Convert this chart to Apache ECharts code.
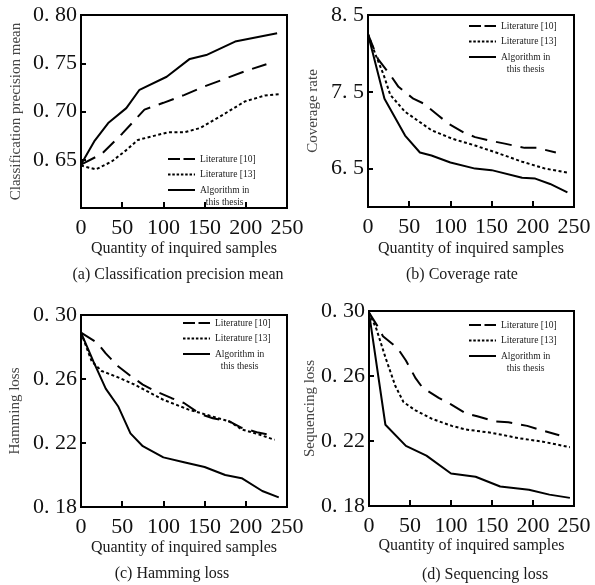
<!DOCTYPE html>
<html>
<head>
<meta charset="utf-8">
<script src="https://cdn.jsdelivr.net/npm/echarts@6/dist/echarts.min.js"></script>
<style>
  html, body { margin: 0; padding: 0; background: #fff; }
  #chart { width: 595px; height: 585px; }
</style>
</head>
<body>
<div id="chart"></div>
<script>
// Shared x axis: number of queried samples
const xTickValues = [0, 50, 100, 150, 200, 250];
const seriesNames = ['Literature [10]', 'Literature [13]', 'Algorithm in this thesis'];
const xAxisTitle = 'Quantity of inquired samples';

// (a) Classification precision mean
const precisionLit10 = [[0,0.645],[25,0.656],[50,0.677],[77,0.702],[100,0.709],[125,0.717],[150,0.726],[175,0.734],[200,0.742],[225,0.749]];
const precisionLit13 = [[0,0.644],[18,0.640],[37,0.648],[55,0.660],[69,0.6705],[85,0.674],[106,0.6785],[126,0.6785],[145,0.683],[155,0.688],[175,0.698],[199,0.7105],[223,0.7165],[240,0.718]];
const precisionOurs  = [[0,0.645],[16,0.669],[33,0.688],[55,0.7035],[71,0.7225],[104,0.736],[132,0.7545],[152,0.7585],[187,0.7725],[238,0.781]];
const precisionTicks = [0.65, 0.70, 0.75, 0.80];

// (b) Coverage rate
const coverageLit10 = [[0,8.25],[12,7.93],[27,7.72],[37,7.565],[55,7.41],[67,7.35],[85,7.195],[97,7.09],[116,6.97],[130,6.91],[152,6.855],[166,6.825],[190,6.77],[205,6.77],[228,6.71]];
const coverageLit13 = [[0,8.25],[10,7.96],[19,7.72],[27,7.46],[45,7.24],[77,7.00],[102,6.89],[130,6.80],[158,6.70],[187,6.59],[215,6.50],[243,6.445]];
const coverageOurs  = [[0,8.25],[20,7.41],[45,6.93],[63,6.71],[77,6.67],[100,6.58],[130,6.50],[150,6.48],[187,6.38],[203,6.37],[221,6.30],[242,6.19]];
const coverageTicks = [6.5, 7.5, 8.5];

// (c) Hamming loss
const hammingLit10 = [[0,0.289],[20,0.2825],[30,0.276],[45,0.268],[60,0.262],[75,0.2565],[90,0.2525],[110,0.248],[125,0.245],[145,0.238],[160,0.2355],[180,0.2335],[195,0.2295],[215,0.2265],[235,0.2245]];
const hammingLit13 = [[0,0.289],[13,0.271],[25,0.265],[45,0.261],[65,0.2565],[100,0.247],[130,0.241],[160,0.2365],[180,0.2335],[195,0.2285],[215,0.2255],[235,0.222]];
const hammingOurs  = [[0,0.289],[15,0.271],[30,0.254],[45,0.243],[60,0.226],[75,0.218],[100,0.211],[125,0.208],[150,0.205],[175,0.200],[195,0.198],[220,0.190],[240,0.186]];
const hammingTicks = [0.18, 0.22, 0.26, 0.30];

// (d) Sequencing loss
const sequencingLit10 = [[0,0.299],[10,0.291],[17,0.2845],[35,0.277],[45,0.2695],[57,0.2585],[65,0.253],[85,0.2465],[100,0.2425],[118,0.237],[132,0.2352],[155,0.232],[170,0.2315],[193,0.2293],[208,0.227],[232,0.2235]];
const sequencingLit13 = [[0,0.299],[9,0.289],[20,0.2715],[32,0.254],[42,0.244],[56,0.239],[77,0.2336],[101,0.2293],[118,0.2271],[150,0.225],[183,0.2217],[212,0.2196],[245,0.2162]];
const sequencingOurs  = [[0,0.299],[20,0.230],[45,0.217],[70,0.211],[100,0.200],[130,0.198],[160,0.192],[195,0.190],[220,0.187],[245,0.185]];
const sequencingTicks = [0.18, 0.22, 0.26, 0.30];

const SERIF = '"Liberation Serif", "DejaVu Serif", serif';

const panels = [
  { grid: { left: 81,  top: 15,  width: 206, height: 193 }, yMin: 0.60, yMax: 0.80, ticks: precisionTicks, digits: 2,
    yName: 'Classification precision mean', yGap: 57, xGap: 33,
    data: [precisionLit10, precisionLit13, precisionOurs],
    legend: { left: 167, firstRow: 159 },
    caption: { text: '(a) Classification precision mean', x: 178, y: 275 } },
  { grid: { left: 368, top: 15,  width: 206, height: 192 }, yMin: 6.0, yMax: 8.5, ticks: coverageTicks, digits: 1,
    yName: 'Coverage rate', yGap: 47, xGap: 34,
    data: [coverageLit10, coverageLit13, coverageOurs],
    legend: { left: 468, firstRow: 26 },
    caption: { text: '(b) Coverage rate', x: 462, y: 275 } },
  { grid: { left: 81,  top: 315, width: 206, height: 192 }, yMin: 0.18, yMax: 0.30, ticks: hammingTicks, digits: 2,
    yName: 'Hamming loss', yGap: 58, xGap: 33,
    data: [hammingLit10, hammingLit13, hammingOurs],
    legend: { left: 182, firstRow: 323 },
    caption: { text: '(c) Hamming loss', x: 172, y: 574 } },
  { grid: { left: 369, top: 311, width: 205, height: 195 }, yMin: 0.18, yMax: 0.30, ticks: sequencingTicks, digits: 2,
    yName: 'Sequencing loss', yGap: 50, xGap: 32,
    data: [sequencingLit10, sequencingLit13, sequencingOurs],
    legend: { left: 468, firstRow: 325 },
    caption: { text: '(d) Sequencing loss', x: 485, y: 575 } }
];

// Line styles for the three methods (plot lines and legend icons)
const plotLineStyles = [
  { color: '#000', width: 2, type: [16, 9] },
  { color: '#000', width: 2, type: [3, 2.5] },
  { color: '#000', width: 2, type: 'solid' }
];
const legendLineStyles = [
  { color: '#000', width: 2, type: [12, 3.5] },
  { color: '#000', width: 2, type: [2.5, 1.8] },
  { color: '#000', width: 2, type: 'solid' }
];

const ROW = 12;          // text line height inside a legend entry
const ROW_STEP = 15.5;   // distance between legend icon rows

const legendText = { fontFamily: SERIF, fontSize: 9.5, color: '#222' };

const grids = [], xAxes = [], yAxes = [], series = [], legends = [], graphics = [];

panels.forEach((p, gi) => {
  grids.push(Object.assign({ show: true, borderColor: '#000', borderWidth: 2, backgroundColor: 'transparent' }, p.grid));

  xAxes.push({
    type: 'value', gridIndex: gi, min: 0, max: 250, interval: 50,
    name: xAxisTitle, nameLocation: 'middle', nameGap: p.xGap,
    nameTextStyle: { fontFamily: SERIF, fontSize: 16, color: '#1a1a1a' },
    axisLine: { show: false },
    axisTick: { show: true, inside: true, length: 6, lineStyle: { color: '#000', width: 2 } },
    axisLabel: { margin: 9, fontFamily: SERIF, fontSize: 22, color: '#111', customValues: xTickValues },
    splitLine: { show: false }
  });

  yAxes.push({
    type: 'value', gridIndex: gi, min: p.yMin, max: p.yMax,
    name: p.yName, nameLocation: 'middle', nameGap: p.yGap,
    nameTextStyle: { fontFamily: SERIF, fontSize: 15, color: '#444' },
    axisLine: { show: false },
    axisTick: { show: true, inside: true, length: 5, customValues: p.ticks, lineStyle: { color: '#000', width: 2 } },
    axisLabel: {
      margin: 4, fontFamily: SERIF, fontSize: 22, color: '#111', customValues: p.ticks,
      formatter: v => Number(v).toFixed(p.digits).replace('.', '. ')
    },
    splitLine: { show: false }
  });

  p.data.forEach((d, si) => {
    series.push({
      type: 'line', name: seriesNames[si], xAxisIndex: gi, yAxisIndex: gi,
      data: d, symbol: 'none', silent: true, color: '#000',
      itemStyle: { color: '#000' }, lineStyle: plotLineStyles[si]
    });
  });

  // One single-entry legend per row; the last entry wraps onto two lines,
  // with a blank first line so that "Algorithm in" sits level with its icon.
  seriesNames.forEach((n, si) => {
    const rowCentre = p.legend.firstRow + si * ROW_STEP;
    const twoLine = si === 2;
    legends.push({
      orient: 'vertical', left: p.legend.left,
      top: rowCentre - (twoLine ? ROW * 1.5 : ROW / 2),
      padding: 0, itemWidth: 27, itemHeight: 8,
      selectedMode: false,
      itemStyle: { opacity: 0 },
      textStyle: Object.assign({}, legendText, {
        lineHeight: ROW,
        rich: {
          sp:  Object.assign({}, legendText, { lineHeight: ROW }),
          top: Object.assign({}, legendText, { lineHeight: ROW }),
          bot: Object.assign({}, legendText, { lineHeight: ROW, align: 'center' })
        }
      }),
      formatter: name => twoLine ? '{sp| }\n{top|Algorithm in}\n{bot|this thesis}' : name,
      data: [{ name: n, lineStyle: legendLineStyles[si], itemStyle: { opacity: 0 } }]
    });
  });

  graphics.push({
    type: 'text', x: p.caption.x, y: p.caption.y, silent: true,
    style: { text: p.caption.text, fill: '#1a1a1a', font: '16px ' + SERIF, textAlign: 'center', textVerticalAlign: 'middle' }
  });
});

const chart = echarts.init(document.getElementById('chart'), null, { renderer: 'canvas' });
chart.setOption({
  animation: false,
  backgroundColor: '#fff',
  grid: grids,
  xAxis: xAxes,
  yAxis: yAxes,
  legend: legends,
  series: series,
  graphic: graphics
});
</script>
</body>
</html>
